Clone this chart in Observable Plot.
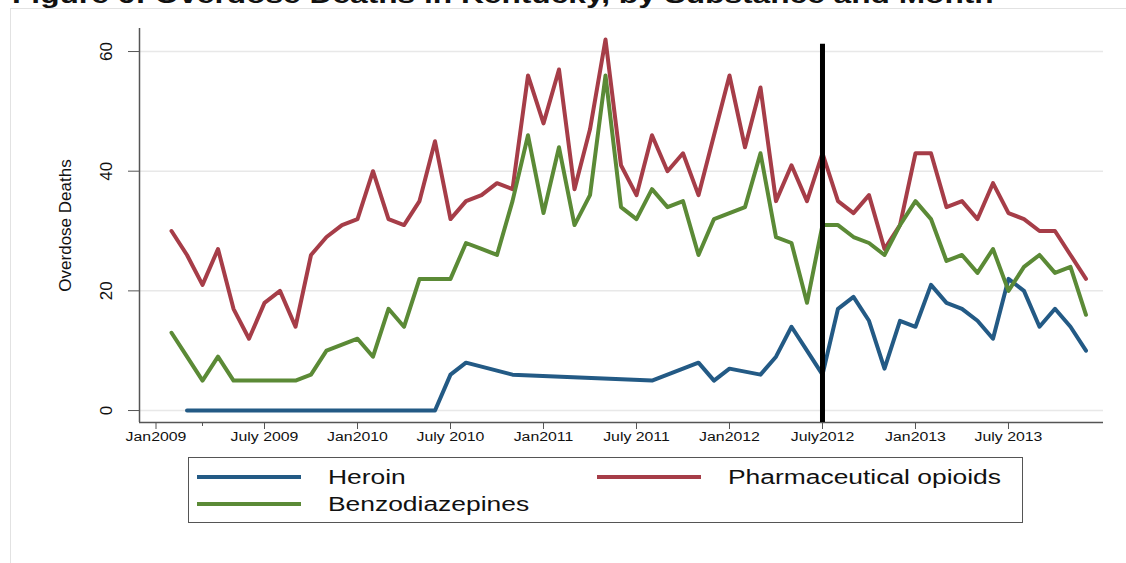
<!DOCTYPE html>
<html><head><meta charset="utf-8">
<script src="https://cdn.jsdelivr.net/npm/d3@7"></script>
<script src="https://cdn.jsdelivr.net/npm/@observablehq/plot@0.6"></script>
<style>
html,body{margin:0;padding:0;background:#fff;}
#wrap{position:relative;width:1126px;height:563px;overflow:hidden;font-family:"Liberation Sans",Arial,Helvetica,sans-serif;}
#wrap svg{position:absolute;left:0;top:0;}
</style></head><body><div id="wrap"></div>
<script>
// Months: index 0 = Jan 2009 ... 59 = Dec 2013
const monthIndex = d3.range(60);
const heroin = [null,0,0,0,0,0,0,0,0,0,0,0,0,0,0,0,0,0,6,8,
  null,null,6,null,null,null,null,null,null,null,null,5,null,null,8,5,7,null,6,9,
  14,10,6,17,19,15,7,15,14,21,18,17,15,12,22,20,14,17,14,10];
const pharma = [30,26,21,27,17,12,18,20,14,26,29,31,32,40,32,31,35,45,32,35,
  36,38,37,56,48,57,37,47,62,41,36,46,40,43,36,46,56,44,54,35,
  41,35,43,35,33,36,27,31,43,43,34,35,32,38,33,32,30,30,26,22];
const benzo = [13,9,5,9,5,5,5,5,5,6,10,11,12,9,17,14,22,22,22,28,
  27,26,35,46,33,44,31,36,56,34,32,37,34,35,26,32,33,34,43,29,
  28,18,31,31,29,28,26,31,35,32,25,26,23,27,20,24,26,23,24,16];
const seriesNames = ["Heroin","Pharmaceutical opioids","Benzodiazepines"];
const seriesColors = ["#235a85","#a63d48","#5b8a36"];
const xTickValues = [-1,6,12,18,24,30,36,42,48,54];
const xTickLabels = ["Jan2009","July 2009","Jan2010","July 2010","Jan2011","July 2011","Jan2012","July2012","Jan2013","July 2013"];
const xMinorTicks = [2];
const yTicks = [0,20,40,60];
const cutoffMonth = 42; // July 2012
const yLabel = "Overdose Deaths";
const titleText = "Figure 6: Overdose Deaths in Kentucky, by Substance and Month";

const rows = arr => monthIndex.map((m,i)=>({m, v: arr[i]})).filter(d => d.v != null);
const labelOf = new Map(xTickValues.map((v,i)=>[v, xTickLabels[i]]));
const xDomain = [-2.065, 60.13];
const yDomain = [-2.0, 63.85];
const font = '"Liberation Sans",Arial,Helvetica,sans-serif';

const chart = Plot.plot({
  width: 1126, height: 563,
  marginLeft: 139, marginRight: 23, marginTop: 28, marginBottom: 141,
  style: {fontFamily: font, background: "transparent", color: "#222"},
  x: {type: "linear", domain: xDomain, label: null},
  y: {domain: yDomain, label: null},
  marks: [
    Plot.gridY(yTicks, {stroke: "#e8e8e8", strokeOpacity: 1, strokeWidth: 1.5}),
    Plot.ruleX([xDomain[0]], {stroke: "#555", strokeWidth: 1.5}),
    Plot.ruleY([yDomain[0]], {stroke: "#555", strokeWidth: 1.5}),
    Plot.axisY(yTicks, {tickSize: 11, tickRotate: -90, tickPadding: 17, fontSize: 17, label: null, stroke: "#555", fill: "#111"}),
    Plot.axisX(xTickValues, {tickSize: 7, tickPadding: 3, fontSize: 12, tickFormat: d => labelOf.get(d), label: null, stroke: "#555", fill: "#111"}),
    Plot.axisX(xMinorTicks, {tickSize: 4, tickFormat: () => "", label: null, stroke: "#555"}),
    Plot.text([yLabel], {frameAnchor: "left", dx: -74, rotate: -90, fontSize: 17, fill: "#111", textAnchor: "middle", lineAnchor: "middle"}),
    Plot.line(rows(heroin), {x: "m", y: "v", stroke: seriesColors[0], strokeWidth: 4}),
    Plot.line(rows(pharma), {x: "m", y: "v", stroke: seriesColors[1], strokeWidth: 4}),
    Plot.line(rows(benzo), {x: "m", y: "v", stroke: seriesColors[2], strokeWidth: 4}),
    Plot.ruleX([cutoffMonth], {y1: yDomain[0], y2: 61.2, stroke: "black", strokeWidth: 5})
  ]
});
const wrap = document.getElementById("wrap");
wrap.appendChild(chart);

const STRETCH = 1.32;
function stretch(sel) {
  sel.each(function(){
    const L = this.getComputedTextLength();
    if (L > 0) { this.setAttribute("textLength", L * STRETCH); this.setAttribute("lengthAdjust", "spacingAndGlyphs"); }
  });
}
stretch(d3.select(chart).selectAll('g[aria-label="x-axis tick label"] text'));

// overlay: frame, title, legend
const ov = d3.select(wrap).append("svg").attr("width", 1126).attr("height", 563)
  .style("font-family", font).style("pointer-events", "none");
ov.append("rect").attr("x", 10.5).attr("y", 8.5).attr("width", 1130).attr("height", 570)
  .attr("fill", "none").attr("stroke", "#e2e2e2");
const t = ov.append("text").attr("x", 12).attr("y", 3).attr("font-size", 24).attr("font-weight", "bold")
  .attr("fill", "#111").text(titleText);
stretch(t);

const lg = ov.append("g");
lg.append("rect").attr("x", 188.5).attr("y", 457.5).attr("width", 834).attr("height", 65)
  .attr("fill", "#fff").attr("stroke", "#555");
const entries = [
  {name: seriesNames[0], color: seriesColors[0], x: 197, y: 477},
  {name: seriesNames[1], color: seriesColors[1], x: 597, y: 477},
  {name: seriesNames[2], color: seriesColors[2], x: 197, y: 504}
];
entries.forEach(e => {
  lg.append("line").attr("x1", e.x).attr("x2", e.x + 104).attr("y1", e.y).attr("y2", e.y)
    .attr("stroke", e.color).attr("stroke-width", 4);
  const tx = lg.append("text").attr("x", e.x + 131).attr("y", e.y + 7).attr("font-size", 20)
    .attr("fill", "#111").text(e.name);
  stretch(tx);
});
</script>
</body></html>
